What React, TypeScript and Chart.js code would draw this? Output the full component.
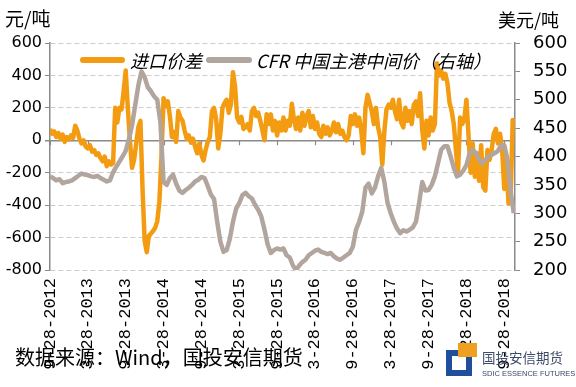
import React, { useEffect, useRef } from "react";
import { Chart, registerables } from "chart.js";

Chart.register(...registerables);

// x = months since 9-28-2012
const xTickMonths = [0, 6, 12, 18, 24, 30, 36, 42, 48, 54, 60, 66, 72];
const xTickLabels = [
  "9-28-2012", "3-28-2013", "9-28-2013", "3-28-2014", "9-28-2014", "3-28-2015",
  "9-28-2015", "3-28-2016", "9-28-2016", "3-28-2017", "9-28-2017", "3-28-2018", "9-28-2018",
];

// 进口价差 (元/吨), one value every 1/3 month
const spreadValues = [
  70, 40, 55, 20, 45, 10, 35, -10, 20, 5, 30, 15,
  90, 60, 10, -20, 0, -40, -50, -30, -70, -60, -90, -80,
  -110, -130, -100, -160, -130, -150, -140, 200, 110, 200, 190, 300,
  430, 200, 0, -170, -120, -20, 80, 120, -300, -620, -690, -590,
  -575, -560, -540, -500, -380, -100, 260, 210, 240, 150, 20, 50,
  -10, 180, 140, 120, 60, 10, 30, -15, 10, -40, -80, -20,
  -90, -125, -60, -10, 20, 180, 200, 130, -50, 40, 200, 230,
  250, 170, 220, 420, 330, 140, 110, 145, 70, 80, 100, 60,
  180, 200, 150, 170, 120, 60, 0, 160, 100, 160, 60, 120,
  30, 110, 60, 140, 60, 120, 90, 225, 130, 70, 140, 60,
  170, 90, 150, 180, 80, 150, 70, 110, 40, 20, 90, 40,
  80, 30, 60, 110, 50, 100, 40, 60, 20, 0, 30, 150,
  100, 160, 90, 140, 60, -80, 200, 280, 230, 180, 100, 200,
  80, 20, -150, 60, 190, 220, 200, 250, 180, 130, 250, 110,
  80, 200, 120, 180, 100, 220, 240, 150, 290, 60, -50, 120,
  30, 140, 60, 100, 475, 400, 430, 380, 410, 350, 230, 180,
  100, -60, -205, 140, 100, 130, 250, 30, -200, -20, -225, -80,
  -250, -30, -290, -310, -60, -120, -60, 40, 70, -20, 40, -60,
  -300, -100, -390, -370, 125, 110,
];

// CFR中国主港中间价 (美元/吨, right axis), one value every 1/2 month
const cfrValues = [
  365, 362, 358, 360, 353, 355, 356, 358, 362, 366, 370, 368,
  367, 365, 364, 366, 362, 359, 356, 358, 372, 382, 391, 400,
  410, 430, 455, 490, 525, 550, 540, 522, 515, 506, 500, 460,
  355, 350, 362, 368, 352, 340, 336, 341, 345, 350, 356, 359,
  364, 362, 348, 333, 325, 285, 250, 232, 235, 255, 285, 308,
  318, 332, 336, 330, 326, 315, 306, 294, 271, 245, 230, 235,
  238, 236, 238, 226, 222, 208, 200, 208, 214, 218, 226, 230,
  234, 236, 232, 230, 228, 230, 224, 220, 218, 222, 226, 230,
  241, 271, 285, 303, 345, 352, 335, 345, 365, 380, 355, 318,
  300, 285, 273, 265, 270, 268, 271, 275, 285, 318, 355, 340,
  341, 350, 365, 388, 412, 418, 418, 400, 380, 365, 368, 375,
  385, 405, 412, 406, 395, 388, 394, 400, 403, 406, 410, 420,
  420, 395, 340, 300,
];

const ORANGE = "#F39C12";
const GREY = "#B2A59D";
const AXIS = "#8a8a8a";
const GRID = "#cdcdcd";

const zeroTicks = {
  id: "zeroTicks",
  beforeDatasetsDraw(chart: any) {
    const xs = chart.scales.x;
    const ys = chart.scales.yL;
    const ctx = chart.ctx;
    const y0 = ys.getPixelForValue(0);
    ctx.save();
    ctx.strokeStyle = AXIS;
    ctx.lineWidth = 1.2;
    for (const m of xTickMonths) {
      const px = Math.round(xs.getPixelForValue(m)) + 0.5;
      ctx.beginPath();
      ctx.moveTo(px, y0);
      ctx.lineTo(px, y0 + 5);
      ctx.stroke();
    }
    ctx.restore();
  },
};

export default function App() {
  const ref = useRef<HTMLCanvasElement | null>(null);

  useEffect(() => {
    document.body.style.margin = "0";
    const canvas = ref.current;
    if (!canvas) return;
    const spreadPoints = spreadValues.map((v, i) => ({ x: i / 3, y: v }));
    const cfrPoints = cfrValues.map((v, i) => ({ x: i / 2, y: v }));
    const chart = new Chart(canvas, {
      type: "line",
      data: {
        datasets: [
          {
            label: "CFR中国主港中间价（右轴）",
            data: cfrPoints,
            yAxisID: "yR",
            borderColor: GREY,
            backgroundColor: GREY,
            borderWidth: 4.5,
            pointRadius: 0,
            tension: 0,
            order: 0,
            borderJoinStyle: "round",
          },
          {
            label: "进口价差",
            data: spreadPoints,
            yAxisID: "yL",
            borderColor: ORANGE,
            backgroundColor: ORANGE,
            borderWidth: 4.5,
            pointRadius: 0,
            tension: 0,
            order: 1,
            borderJoinStyle: "round",
          },
        ],
      },
      options: {
        responsive: false,
        animation: false,
        devicePixelRatio: 1,
        layout: { padding: { top: 43, left: 0, right: 0, bottom: 0 } },
        plugins: { legend: { display: false }, tooltip: { enabled: false } },
        scales: {
          x: {
            type: "linear",
            min: 0,
            max: 73.7,
            afterBuildTicks: (s: any) => {
              s.ticks = xTickMonths.map((v) => ({ value: v }));
            },
            afterFit: (s: any) => {
              s.height = 117;
            },
            grid: { display: false, drawTicks: false },
            border: { display: false },
            ticks: {
              autoSkip: false,
              maxRotation: 90,
              minRotation: 90,
              padding: 8,
              color: "#000",
              font: { family: "Liberation Mono", size: 17 },
              callback: (_v: any, i: number) => xTickLabels[i],
            },
          },
          yL: {
            position: "left",
            min: -800,
            max: 600,
            afterFit: (s: any) => {
              s.width = 50;
            },
            ticks: {
              stepSize: 200,
              padding: 3,
              color: "#000",
              font: { family: "DejaVu Sans", size: 16 },
            },
            grid: {
              color: (c: any) => (c.tick && c.tick.value === 0 ? AXIS : GRID),
              lineWidth: (c: any) => (c.tick && c.tick.value === 0 ? 1.5 : 1),
              drawTicks: true,
              tickLength: 5,
              tickColor: AXIS,
              tickBorderDash: [],
            },
            border: {
              display: true,
              color: AXIS,
              width: 1.5,
              dash: (c: any) => (c.tick && c.tick.value === 0 ? [] : [5, 3]),
            },
          },
          yR: {
            position: "right",
            min: 200,
            max: 600,
            afterFit: (s: any) => {
              s.width = 61;
            },
            ticks: {
              stepSize: 50,
              padding: 13,
              color: "#000",
              font: { family: "DejaVu Sans", size: 18 },
            },
            grid: {
              drawOnChartArea: false,
              drawTicks: true,
              tickLength: 5,
              tickColor: AXIS,
            },
            border: { display: true, color: AXIS, width: 1.5 },
          },
        },
      } as any,
      plugins: [zeroTicks],
    });
    return () => chart.destroy();
  }, []);

  const cjk = '"Noto Sans CJK SC", "Noto Sans", sans-serif';
  const abs = (s: React.CSSProperties): React.CSSProperties => ({ position: "absolute", ...s });

  return (
    <div style={{ position: "absolute", left: 0, top: 0, width: 576, height: 387, background: "#fff", overflow: "hidden" }}>
      <canvas ref={ref} width={576} height={387} style={{ position: "absolute", left: 0, top: 0, width: 576, height: 387 }} />
      <div style={abs({ left: 5, top: 6, fontFamily: cjk, fontSize: 19, lineHeight: "24px", color: "#000", whiteSpace: "nowrap" })}>元/吨</div>
      <div style={abs({ left: 498, top: 7, fontFamily: cjk, fontSize: 18, lineHeight: "24px", color: "#000", whiteSpace: "nowrap" })}>美元/吨</div>

      {/* legend */}
      <div style={abs({ left: 80, top: 57, width: 45, height: 6, borderRadius: 3, background: ORANGE })} />
      <div style={abs({ left: 130, top: 48, fontFamily: cjk, fontSize: 18, lineHeight: "24px", fontStyle: "italic", color: "#000", whiteSpace: "nowrap" })}>进口价差</div>
      <div style={abs({ left: 206, top: 57, width: 46, height: 6, borderRadius: 3, background: GREY })} />
      <div style={abs({ left: 256, top: 48, fontFamily: cjk, fontSize: 18, lineHeight: "24px", fontStyle: "italic", color: "#000", whiteSpace: "nowrap" })}>CFR 中国主港中间价（右轴）</div>

      {/* source */}
      <div style={abs({ left: 15, top: 344, fontFamily: cjk, fontSize: 20, lineHeight: "26px", color: "#000", whiteSpace: "nowrap" })}>数据来源：Wind，国投安信期货</div>

      {/* logo */}
      <div style={abs({ left: 446, top: 350, width: 26, height: 26, background: "#1f4e9c" })} />
      <div style={abs({ left: 452, top: 356, width: 14, height: 14, background: "#fff" })} />
      <div style={abs({ left: 458, top: 343, width: 19, height: 14, background: "#F0A020" })} />
      <div style={abs({ left: 482, top: 348, fontFamily: cjk, fontSize: 13.5, lineHeight: "18px", color: "#3b4a66", whiteSpace: "nowrap" })}>国投安信期货</div>
      <div style={abs({ left: 482, top: 369, fontFamily: '"Liberation Sans Narrow", "Liberation Sans", sans-serif', fontSize: 7.5, lineHeight: "10px", color: "#3b4a66", whiteSpace: "nowrap" })}>SDIC ESSENCE FUTURES</div>
    </div>
  );
}
